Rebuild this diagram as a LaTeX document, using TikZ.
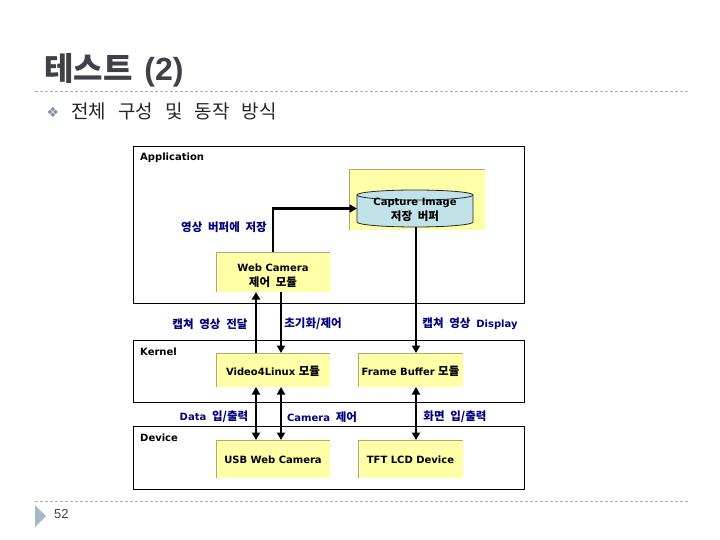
\documentclass[tikz,border=0pt]{standalone}
\usepackage{fontspec}
\setmainfont{DejaVu Sans}
\newfontfamily\krfont{Noto Sans CJK KR}[WordSpace=2.2]
\newfontfamily\arialfont{Liberation Sans}
\newcommand\K[1]{{\krfont #1}}
\newcommand\KL[1]{{\krfont\fontsize{11.5}{13}\selectfont #1}}
\usetikzlibrary{arrows.meta}
\definecolor{lblblue}{RGB}{0,0,128}
\definecolor{boxyellow}{RGB}{255,255,168}
\definecolor{boxedge}{RGB}{170,170,120}
\definecolor{cylfill}{RGB}{192,226,232}
\definecolor{titlegray}{RGB}{64,64,72}
\definecolor{bulletcol}{RGB}{128,140,165}
\definecolor{dashcol}{RGB}{175,175,175}
\definecolor{tricol}{RGB}{165,182,205}
\begin{document}
\begin{tikzpicture}[x=1pt,y=-1pt,
  frame/.style={draw=black, line width=0.9pt, inner sep=0pt, outer sep=0pt, fill=white},
  ybox/.style={fill=boxyellow, inner sep=0pt, outer sep=0pt},
  btext/.style={align=center, inner sep=0pt, font=\bfseries\fontsize{10}{15}\selectfont},
  lbl/.style={text=lblblue, inner sep=0pt, font=\bfseries\fontsize{10}{12}\selectfont},
  hdr/.style={anchor=west, inner sep=0pt, font=\bfseries\fontsize{10}{12}\selectfont},
  edge/.style={draw=boxedge, line width=0.8pt},
  arr/.style={line width=2.3pt, -{Triangle[length=7.5pt,width=8pt]}},
  darr/.style={line width=2.3pt, {Triangle[length=7.5pt,width=8pt]}-{Triangle[length=7.5pt,width=8pt]}},
  dashline/.style={draw=dashcol, line width=0.8pt, dash pattern=on 3pt off 2pt}]
\useasboundingbox (0,0) rectangle (720,540);

% header
\node[anchor=west, inner sep=0pt, text=titlegray, font=\arialfont\bfseries\fontsize{32}{38}\selectfont] (title) at (44,70) {\K{테스트}\hspace{3pt} (2)};
\draw[dashline] (35,91) -- (688,91);
\node[text=bulletcol, inner sep=0pt, font=\fontsize{14}{16}\selectfont] (bullet) at (53,112) {❖};
\node[anchor=west, inner sep=0pt, text=black!85, font=\krfont\fontsize{19}{22}\selectfont] (subtitle) at (71,111) {전체\hspace{12pt}구성\hspace{12pt}및\hspace{12pt}동작\hspace{12pt}방식};

% layer frames
\node[frame, minimum width=391pt, minimum height=157pt] (app) at (328.5,224.5) {};
\node[frame, minimum width=391pt, minimum height=62pt] (kernel) at (328.5,371) {};
\node[frame, minimum width=391pt, minimum height=63pt] (device) at (328.5,457.5) {};
\node[hdr] (applbl) at (140,158) {Application};
\node[hdr] (kerlbl) at (140,352) {Kernel};
\node[hdr] (devlbl) at (140,438) {Device};

% yellow boxes
\node[ybox, minimum width=136pt, minimum height=61pt] (capbg) at (417,199.5) {};
\node[ybox, minimum width=114pt, minimum height=40pt] (webcam) at (273,272) {};
\node[ybox, minimum width=114pt, minimum height=34pt] (v4l) at (273,370) {};
\node[ybox, minimum width=105pt, minimum height=34pt] (fb) at (410.5,370) {};
\node[ybox, minimum width=114pt, minimum height=38pt] (usb) at (273,459) {};
\node[ybox, minimum width=105pt, minimum height=38pt] (tft) at (410.5,459) {};
\foreach \b in {capbg,webcam,v4l,fb,usb,tft}
  \draw[edge] (\b.south west) -- (\b.north west) -- (\b.north east);

% cylinder
\node[inner sep=0pt, outer sep=0pt, minimum width=116pt, minimum height=37pt] (cyl) at (415,208.5) {};
\draw[fill=cylfill, draw=black!85, line width=0.8pt]
  (357,195) -- (357,222) arc[start angle=180, end angle=360, x radius=58pt, y radius=5pt]
  -- (473,195) arc[start angle=0, end angle=180, x radius=58pt, y radius=5pt] -- cycle;
\draw[draw=black!85, line width=0.8pt] (357,195) arc[start angle=180, end angle=360, x radius=58pt, y radius=5pt];

% box texts
\node[btext] (captxt) at ([yshift=-1.5pt]cyl.center) {Capture Image\\\KL{저장 버퍼}};
\node[btext] (webtxt) at ([yshift=-4pt]webcam.center) {Web Camera\\\KL{제어 모듈}};
\node[btext] (v4ltxt) at ([yshift=-1.5pt]v4l.center) {Video4Linux \KL{모듈}};
\node[btext] (fbtxt) at ([yshift=-1.5pt]fb.center) {Frame Buffer \KL{모듈}};
\node[btext] (usbtxt) at ([yshift=-1pt]usb.center) {USB Web Camera};
\node[btext] (tfttxt) at ([yshift=-1pt]tft.center) {TFT LCD Device};

% connectors
\draw[arr] (webcam.north) |- (cyl.west);
\draw[arr] ([xshift=1pt]cyl.south) -- ([xshift=1pt]cyl.south |- fb.north);
\draw[arr] ([xshift=-17pt]v4l.north) -- ([xshift=-17pt]webcam.south);
\draw[arr] ([xshift=8pt]webcam.south) -- ([xshift=8pt]v4l.north);
\draw[darr] ([xshift=-17pt]v4l.south) -- ([xshift=-17pt]usb.north);
\draw[darr] ([xshift=8pt]v4l.south) -- ([xshift=8pt]usb.north);
\draw[darr] ([xshift=5.5pt]fb.south) -- ([xshift=5.5pt]tft.north);

% connector labels
\node[lbl] (l1) at (224,227) {\KL{영상 버퍼에 저장}};
\node[lbl] (l2) at (210,324) {\KL{캡쳐 영상 전달}};
\node[lbl] (l3) at (313,324) {\KL{초기화/제어}};
\node[lbl] (l4) at (470,324) {\KL{캡쳐 영상 }Display};
\node[lbl] (l5) at (214,417) {Data\KL{ 입/출력}};
\node[lbl] (l6) at (322,417) {Camera\KL{ 제어}};
\node[lbl] (l7) at (455,417) {\KL{화면 입/출력}};

% footer
\draw[dashline] (35,501) -- (688,501);
\fill[tricol] (35,505) -- (46,516) -- (35,527) -- cycle;
\node[anchor=west, inner sep=0pt, text=black!75, font=\arialfont\fontsize{13}{15}\selectfont] (pageno) at (54,514) {52};
\end{tikzpicture}
\end{document}
